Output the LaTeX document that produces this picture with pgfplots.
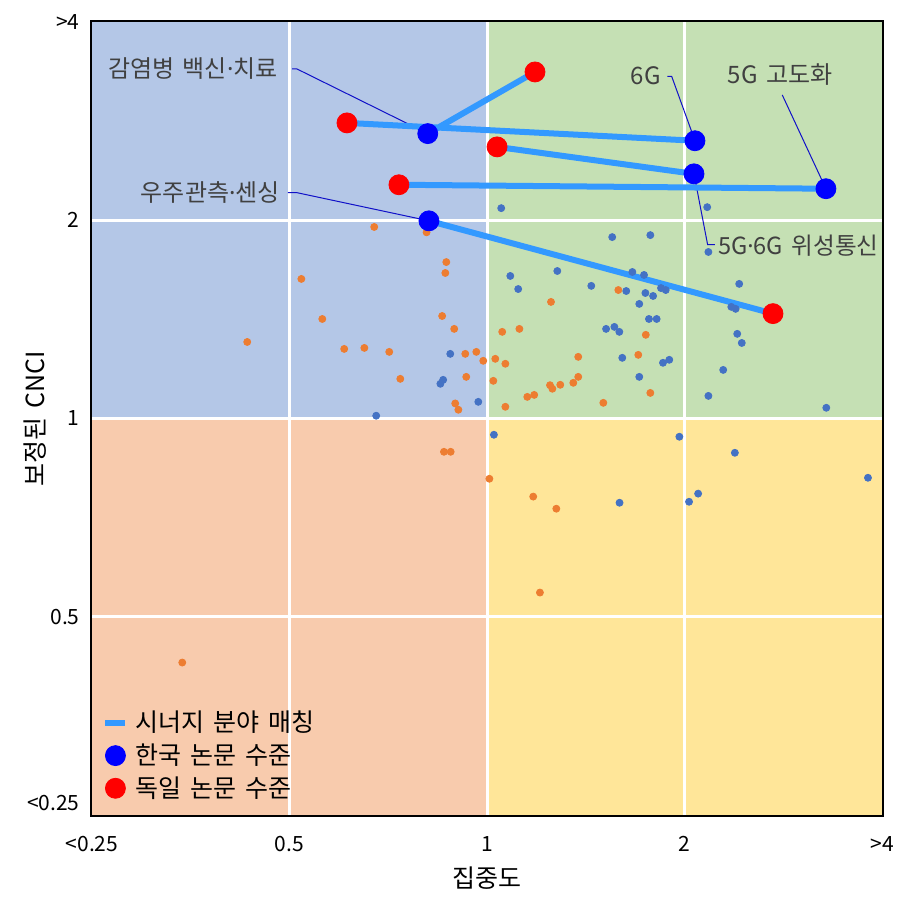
\documentclass[border=0pt]{standalone}
\usepackage{fontspec}
\setmainfont{Noto Sans CJK KR}[WordSpace=1.6]
\newfontfamily\dotfont{Noto Sans}
\newcommand\md{{\dotfont ·}}
\usepackage{pgfplots}
\pgfplotsset{compat=1.18}
\definecolor{qTL}{HTML}{B4C7E7}
\definecolor{qTR}{HTML}{C5E0B4}
\definecolor{qBL}{HTML}{F8CBAD}
\definecolor{qBR}{HTML}{FFE699}
\definecolor{sblue}{HTML}{4472C4}
\definecolor{sorange}{HTML}{ED7D31}
\definecolor{lineblue}{HTML}{3399FF}
\definecolor{leader}{HTML}{1010C8}
\definecolor{annot}{HTML}{404040}
\definecolor{kblue}{HTML}{0000FF}
\definecolor{dred}{HTML}{FF0000}
\begin{document}
\begin{tikzpicture}
\useasboundingbox (0,0) rectangle (454pt,454pt);
\begin{axis}[
  at={(46pt,46.5pt)}, anchor=south west,
  width=395pt, height=396.5pt, scale only axis,
  xmin=-2, xmax=2, ymin=-2, ymax=2,
  xtick={-2,-1,0,1,2}, xticklabels={<0.25,0.5,1,2,>4},
  ytick={-2,-1,0,1,2}, yticklabels={\raisebox{12pt}{<0.25},0.5,1,2,>4},
  major tick length=0pt,
  axis line style={line width=2pt, black},
  tick label style={font=\fontsize{10.5}{12}\selectfont},
  xticklabel style={anchor=center, inner sep=0pt, yshift=-14.5pt},
  yticklabel style={anchor=east, inner sep=0pt, xshift=-6pt},
  xlabel={집중도}, ylabel={보정된 CNCI},
  label style={font=\fontsize{12.5}{14}\selectfont},
  xlabel style={at={(axis description cs:0.5,-0.0794)}, anchor=center},
  ylabel style={at={(axis description cs:-0.0722,0.5)}, anchor=center},
  legend style={draw=none, fill=none, at={(axis description cs:0.0127,0.017)}, anchor=south west,
    font=\fontsize{12.5}{14}\selectfont, inner sep=0pt, row sep=3.5pt, column sep=3pt,
    nodes={inner sep=0.5pt}},
  legend cell align=left,
]
% quadrant backgrounds
\fill[qTL] (axis cs:-2,0) rectangle (axis cs:0,2);
\fill[qTR] (axis cs:0,0) rectangle (axis cs:2,2);
\fill[qBL] (axis cs:-2,-2) rectangle (axis cs:0,0);
\fill[qBR] (axis cs:0,-2) rectangle (axis cs:2,0);
% grid
\draw[white, line width=1.5pt] (axis cs:-1,-2) -- (axis cs:-1,2);
\draw[white, line width=1.5pt] (axis cs:0,-2) -- (axis cs:0,2);
\draw[white, line width=1.5pt] (axis cs:1,-2) -- (axis cs:1,2);
\draw[white, line width=1.5pt] (axis cs:-2,-1) -- (axis cs:2,-1);
\draw[white, line width=1.5pt] (axis cs:-2,0) -- (axis cs:2,0);
\draw[white, line width=1.5pt] (axis cs:-2,1) -- (axis cs:2,1);
% small points: Korea
\addplot[only marks, mark=*, mark size=1.75pt, color=sblue, forget plot] coordinates {
(0.072,1.061) (1.115,1.066) (0.634,0.915) (0.827,0.925) (1.121,0.840) (0.118,0.719) (0.158,0.653)
(0.356,0.744) (0.528,0.669) (0.736,0.739) (0.795,0.724) (0.705,0.643) (0.802,0.633) (0.841,0.618)
(0.881,0.658) (0.905,0.648) (0.771,0.578) (0.820,0.502) (0.859,0.502) (0.603,0.452) (0.645,0.462)
(0.670,0.437) (0.685,0.306) (0.771,0.210) (0.891,0.281) (0.923,0.296) (1.277,0.679) (1.237,0.563)
(1.259,0.553) (1.267,0.427) (1.290,0.381) (1.196,0.245) (1.121,0.114) (1.718,0.054) (-0.186,0.326)
(-0.222,0.195) (-0.236,0.175) (-0.044,0.084) (-0.561,0.014) (0.035,-0.082) (0.974,-0.092)
(1.255,-0.173) (1.929,-0.299) (1.069,-0.379) (1.023,-0.420) (0.671,-0.425)
};
% small points: Germany
\addplot[only marks, mark=*, mark size=1.75pt, color=sorange, forget plot] coordinates {
(-0.571,0.966) (-0.306,0.939) (-0.206,0.789) (-0.211,0.734) (-0.940,0.704) (-0.834,0.502)
(-0.227,0.517) (-0.166,0.452) (-1.214,0.386) (-0.723,0.351) (-0.621,0.356) (-0.495,0.336)
(-0.110,0.326) (-0.054,0.336) (-0.019,0.291) (0.042,0.301) (0.093,0.276) (-0.439,0.200)
(-0.105,0.210) (0.032,0.190) (-0.161,0.076) (-0.145,0.044) (0.077,0.437) (0.164,0.452)
(0.093,0.059) (0.204,0.109) (0.239,0.119) (0.319,0.168) (0.331,0.150) (0.371,0.170)
(0.437,0.180) (0.462,0.210) (0.462,0.311) (0.324,0.588) (0.665,0.648) (0.804,0.422)
(0.766,0.321) (0.589,0.079) (0.827,0.129) (-0.218,-0.168) (-0.184,-0.168) (0.012,-0.304)
(0.234,-0.394) (0.351,-0.455) (0.268,-0.878) (-1.543,-1.231)
};
% leader lines
\draw[leader, line width=0.5pt] (axis cs:-0.987,1.763) -- (axis cs:-0.962,1.763) -- (axis cs:-0.300,1.437);
\draw[leader, line width=0.5pt] (axis cs:-1.008,1.139) -- (axis cs:-0.962,1.139) -- (axis cs:-0.294,0.997);
\draw[leader, line width=0.5pt] (axis cs:0.913,1.726) -- (axis cs:0.935,1.726) -- (axis cs:1.053,1.401);
\draw[leader, line width=0.5pt] (axis cs:1.495,1.632) -- (axis cs:1.716,1.159);
\draw[leader, line width=0.5pt] (axis cs:1.048,1.234) -- (axis cs:1.117,0.877) -- (axis cs:1.154,0.877);
% synergy lines
\addplot[lineblue, line width=3pt, forget plot] coordinates {(-0.300,1.437) (0.243,1.748)};
\addplot[lineblue, line width=3pt, forget plot] coordinates {(-0.709,1.491) (1.053,1.401)};
\addplot[lineblue, line width=3pt, forget plot] coordinates {(0.051,1.370) (1.048,1.234)};
\addplot[lineblue, line width=3pt, forget plot] coordinates {(-0.446,1.179) (1.716,1.159)};
\addplot[lineblue, line width=3pt, forget plot] coordinates {(-0.294,0.997) (1.448,0.529)};
% Korea level
\addplot[only marks, mark=*, mark size=5pt, color=kblue, forget plot] coordinates {
(-0.300,1.437) (1.053,1.401) (1.048,1.234) (1.716,1.159) (-0.294,0.997)};
% Germany level
\addplot[only marks, mark=*, mark size=5pt, color=dred, forget plot] coordinates {
(0.243,1.748) (-0.709,1.491) (0.051,1.370) (-0.446,1.179) (1.448,0.529)};
% annotations
\node[anchor=east, inner sep=0pt, text=annot, font=\fontsize{12}{14}\selectfont] at (axis cs:-1.058,1.766) {감염병 백신\md 치료};
\node[anchor=east, inner sep=0pt, text=annot, font=\fontsize{12}{14}\selectfont] at (axis cs:-1.047,1.139) {우주관측\md 센싱};
\node[anchor=east, inner sep=0pt, text=annot, font=\fontsize{12}{14}\selectfont] at (axis cs:0.881,1.728) {6G};
\node[anchor=center, inner sep=0pt, text=annot, font=\fontsize{12}{14}\selectfont] at (axis cs:1.484,1.733) {5G 고도화};
\node[anchor=west, inner sep=0pt, text=annot, font=\fontsize{11.8}{14}\selectfont] at (axis cs:1.168,0.872) {5G\md 6G 위성통신};
% legend
\addlegendimage{legend image code/.code={\draw[lineblue, line width=3pt] (0,0) -- (10pt,0);}}
\addlegendentry{시너지 분야 매칭}
\addlegendimage{legend image code/.code={\fill[kblue] (5pt,0) circle (5pt);}}
\addlegendentry{한국 논문 수준}
\addlegendimage{legend image code/.code={\fill[dred] (5pt,0) circle (5pt);}}
\addlegendentry{독일 논문 수준}
\end{axis}
\end{tikzpicture}
\end{document}
